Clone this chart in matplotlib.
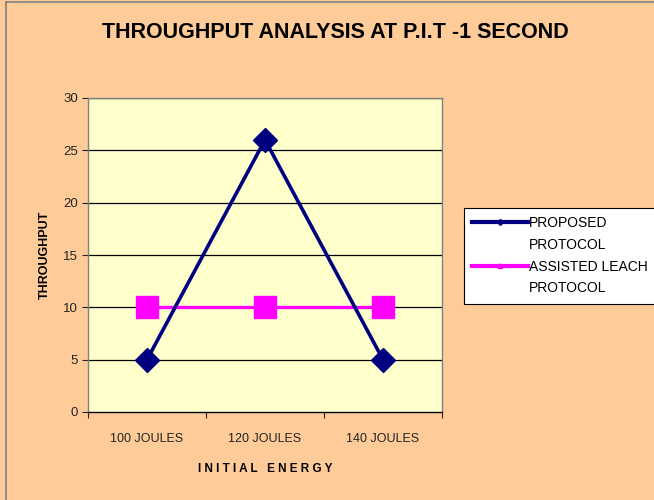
"""Throughput analysis at P.I.T - 1 second: proposed vs assisted LEACH."""

import matplotlib

matplotlib.use("Agg")
import matplotlib.pyplot as plt  # noqa: E402
from matplotlib.lines import Line2D  # noqa: E402

plt.rcParams["font.family"] = ["Liberation Sans", "DejaVu Sans"]

BG = "#FFCC99"
PLOT_BG = "#FFFFCC"
NAVY = "#000080"
MAGENTA = "#FF00FF"

categories = ["100 JOULES", "120 JOULES", "140 JOULES"]
proposed = [5, 26, 5]
assisted_leach = [10, 10, 10]
series_labels = ["PROPOSED\nPROTOCOL", "ASSISTED LEACH\nPROTOCOL"]

fig = plt.figure(figsize=(6.54, 5.0), dpi=100, facecolor=BG)
ax = fig.add_axes([88 / 654, 1 - 412 / 500, 354 / 654, 314 / 500])
ax.set_facecolor(PLOT_BG)

xs = [i + 0.5 for i in range(len(categories))]
ax.plot(xs, proposed, color=NAVY, lw=2.6, marker="D", ms=12.5, zorder=4)
ax.plot(xs, assisted_leach, color=MAGENTA, lw=2.4, marker="s", ms=16, zorder=3)

ax.set_xlim(0, len(categories))
ax.set_ylim(0, 30)
ax.set_yticks(range(0, 31, 5))
ax.set_xticks(range(len(categories) + 1))
ax.set_xticklabels([])
ax.set_xticks(xs, minor=True)
ax.set_xticklabels(categories, minor=True)
ax.tick_params(axis="x", which="minor", length=0, pad=15, labelsize=9, colors="#222222")
ax.tick_params(axis="x", which="major", length=4, direction="out", color="#222222")
ax.tick_params(axis="y", length=4, direction="out", labelsize=9.5, colors="#222222", pad=3)

for y in range(5, 31, 5):
    ax.axhline(y, color="black", lw=0.9, zorder=1)

for side in ["top", "right", "left"]:
    ax.spines[side].set_color("#808080")
    ax.spines[side].set_linewidth(1.0)
ax.spines["bottom"].set_color("black")
ax.spines["bottom"].set_linewidth(1.0)

ax.set_ylabel("THROUGHPUT", fontsize=9, fontweight="bold", labelpad=9)
ax.set_xlabel("I N I T I A L   E N E R G Y", fontsize=8.5, fontweight="bold", labelpad=13)

fig.text(0.513, 0.935, "THROUGHPUT ANALYSIS AT P.I.T -1 SECOND",
         ha="center", va="center", fontsize=15.5, fontweight="bold")

# legend: handle sits on the first line of each label, second line aligned under it
handles, labels = [], []
for color, marker, label in zip([NAVY, MAGENTA], ["D", "s"], series_labels):
    first, second = label.split("\n")
    handles.append(Line2D([], [], color=color, lw=3, marker=marker, ms=3))
    labels.append(first)
    handles.append(Line2D([], [], color="none"))
    labels.append(second)
leg = fig.legend(handles, labels, loc="upper left",
                 bbox_to_anchor=(464 / 654, 1 - 208 / 500), fontsize=10,
                 handlelength=4.0, handletextpad=0.1, borderpad=0.6,
                 labelspacing=0.55, borderaxespad=0, fancybox=False, framealpha=1)
leg.get_frame().set_edgecolor("black")
leg.get_frame().set_linewidth(0.8)

# outer chart border (left and top edges are visible)
fig.add_artist(Line2D([6 / 654, 6 / 654], [0, 1 - 2 / 500], color="#808080", lw=1.2))
fig.add_artist(Line2D([6 / 654, 1], [1 - 2 / 500, 1 - 2 / 500], color="#808080", lw=1.2))

fig.savefig("out.png", dpi=100, facecolor=BG)
